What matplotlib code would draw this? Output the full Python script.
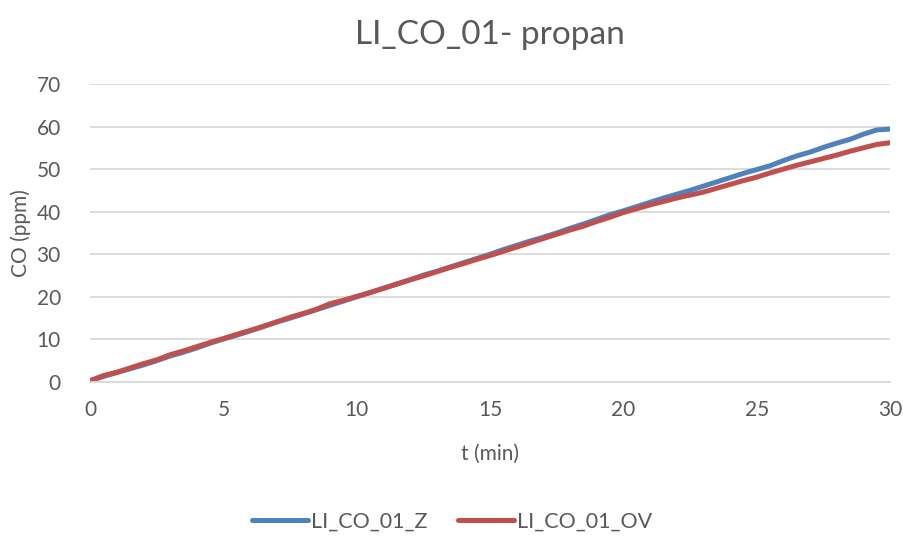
import matplotlib
matplotlib.use("Agg")
import matplotlib.pyplot as plt

# time axis (min), every 0.5 min
t_min = [i * 0.5 for i in range(61)]

# LI_CO_01_Z (blue)
co_z = [0.3, 1.3, 2.2, 3.1, 4.0, 5.0, 6.1, 7.0, 8.0, 9.1,
        10.1, 11.0, 12.0, 13.0, 14.1, 15.0, 16.0, 17.0, 18.0, 19.0,
        20.0, 21.0, 22.0, 23.0, 24.0, 25.1, 26.0, 27.0, 28.0, 29.0,
        30.0, 31.1, 32.1, 33.1, 34.0, 35.0, 36.1, 37.1, 38.2, 39.3,
        40.2, 41.2, 42.2, 43.2, 44.1, 45.0, 46.0, 47.0, 48.0, 49.0,
        49.9, 50.8, 52.0, 53.1, 54.0, 55.1, 56.1, 57.0, 58.2, 59.2,
        59.4]

# LI_CO_01_OV (red)
co_ov = [0.3, 1.5, 2.3, 3.3, 4.3, 5.2, 6.4, 7.3, 8.3, 9.3,
         10.2, 11.2, 12.1, 13.1, 14.1, 15.2, 16.1, 17.1, 18.4, 19.2,
         20.1, 21.0, 22.0, 23.0, 24.0, 24.9, 25.9, 26.9, 27.8, 28.8,
         29.7, 30.7, 31.7, 32.7, 33.7, 34.7, 35.7, 36.6, 37.7, 38.7,
         39.8, 40.7, 41.6, 42.4, 43.2, 43.9, 44.6, 45.5, 46.4, 47.3,
         48.1, 49.1, 50.0, 50.9, 51.7, 52.5, 53.3, 54.2, 55.0, 55.8,
         56.2]

x_ticks = [0, 5, 10, 15, 20, 25, 30]
y_ticks = [0, 10, 20, 30, 40, 50, 60, 70]

plt.rcParams['font.family'] = ['Lato', 'DejaVu Sans']
txt = '#595959'
grid = '#D9D9D9'

fig = plt.figure(figsize=(9.04, 5.36), dpi=100)
ax = fig.add_axes([0.0996, 0.2873, 0.8849, 0.556])

ax.plot(t_min, co_z, color='#4F81BD', lw=3.6, solid_capstyle='round', label='LI_CO_01_Z')
ax.plot(t_min, co_ov, color='#C0504D', lw=3.6, solid_capstyle='round', label='LI_CO_01_OV')

ax.set_xlim(0, 30)
ax.set_ylim(0, 70)
ax.set_xticks(x_ticks)
ax.set_yticks(y_ticks)
ax.tick_params(length=0, labelsize=15, labelcolor=txt)
ax.tick_params(axis='x', pad=13)
ax.tick_params(axis='y', pad=21)
ax.yaxis.grid(True, color=grid, lw=1.3)
ax.set_axisbelow(True)
for s in ['top', 'right', 'left']:
    ax.spines[s].set_visible(False)
ax.spines['bottom'].set_color(grid)
ax.spines['bottom'].set_linewidth(1.3)

ax.set_title('LI_CO_01- propan', fontsize=24, color=txt, pad=29)
ax.set_xlabel('t (min)', fontsize=15, color=txt, labelpad=17)
ax.set_ylabel('CO (ppm)', fontsize=15, color=txt, labelpad=4)

fig.legend(loc='lower center', bbox_to_anchor=(0.5, -0.028), ncol=2, frameon=False,
           fontsize=15.5, labelcolor=txt, handlelength=2.6, handletextpad=0.15,
           columnspacing=1.4)

fig.savefig('out.png', dpi=100)
